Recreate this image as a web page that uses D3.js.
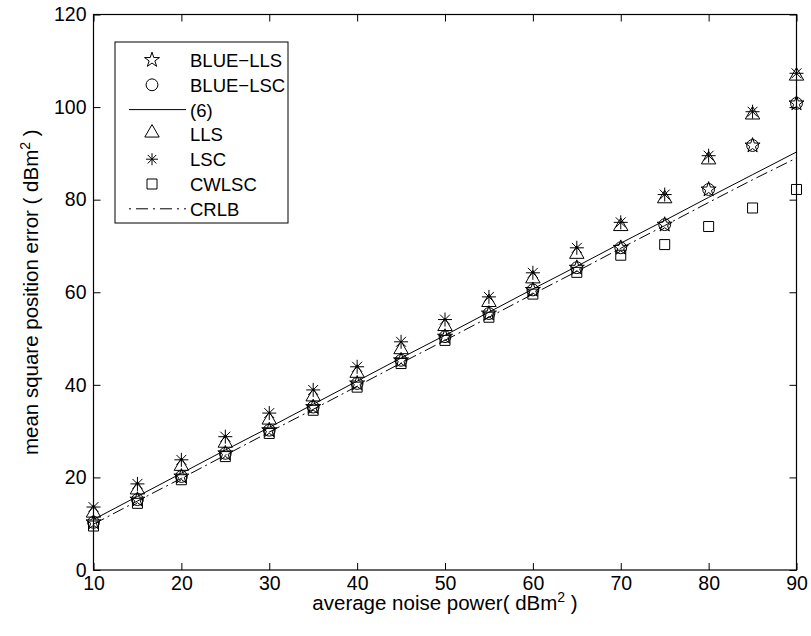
<!DOCTYPE html>
<html>
<head>
<meta charset="utf-8">
<script src="https://cdn.jsdelivr.net/npm/d3@7"></script>
<style>
  body { margin: 0; background: #fff; }
  text { font-family: "Liberation Sans", Arial, sans-serif; fill: #000; }
</style>
</head>
<body>
<div id="chart"></div>
<script>
// Data
const noisePower = [10, 15, 20, 25, 30, 35, 40, 45, 50, 55, 60, 65, 70, 75, 80, 85, 90];
const blueLLS = [10.3, 15.2, 20.2, 25.2, 30.2, 35.2, 40.3, 45.3, 50.4, 55.4, 60.5, 65.3, 69.6, 74.6, 82.2, 91.7, 100.8];
const blueLSC = [10.3, 15.2, 20.2, 25.2, 30.2, 35.2, 40.3, 45.3, 50.4, 55.4, 60.5, 65.3, 69.6, 74.6, 82.2, 91.7, 100.8];
const eq6 = [10.9, 15.9, 20.9, 25.9, 30.8, 35.8, 40.8, 45.8, 50.7, 55.7, 60.7, 65.6, 70.6, 75.5, 80.5, 85.4, 90.3];
const lls = [12.0, 17.0, 22.1, 27.1, 32.1, 37.1, 42.2, 47.3, 52.3, 57.5, 62.6, 67.9, 73.9, 79.9, 88.3, 98.0, 106.4];
const lsc = [13.6, 18.6, 23.8, 28.8, 33.9, 38.9, 43.9, 49.3, 54.1, 59.0, 64.2, 69.6, 75.1, 81.1, 89.5, 99.0, 107.3];
const cwlsc = [9.5, 14.4, 19.5, 24.5, 29.5, 34.5, 39.5, 44.6, 49.6, 54.6, 59.6, 64.3, 68.0, 70.3, 74.2, 78.2, 82.2];
const crlb = [9.9, 14.9, 19.8, 24.8, 29.8, 34.7, 39.7, 44.7, 49.6, 54.6, 59.6, 64.5, 69.5, 74.4, 79.4, 84.3, 89.0];
const xTicks = [10, 20, 30, 40, 50, 60, 70, 80, 90];
const yTicks = [0, 20, 40, 60, 80, 100, 120];
const legendLabels = ["BLUE\u2212LLS", "BLUE\u2212LSC", "(6)", "LLS", "LSC", "CWLSC", "CRLB"];

const W = 811, H = 636;
const margin = { top: 14.5, right: 14.5, bottom: 66, left: 93.5 };
const width = W - margin.left - margin.right;
const height = H - margin.top - margin.bottom;

const svg = d3.select("#chart").append("svg")
    .attr("width", W)
    .attr("height", H);

const g = svg.append("g")
    .attr("transform", `translate(${margin.left},${margin.top})`);

const x = d3.scaleLinear().domain([10, 90]).range([0, width]);
const y = d3.scaleLinear().domain([0, 120]).range([height, 0]);

// Axes, MATLAB style: ticks inward on all sides
const tickLen = 7;
g.append("g")
    .attr("transform", `translate(0,${height})`)
    .call(d3.axisBottom(x).tickValues(xTicks).tickSizeInner(-tickLen).tickSizeOuter(0).tickPadding(6))
    .call(a => a.select(".domain").remove());
g.append("g")
    .call(d3.axisTop(x).tickValues(xTicks).tickSizeInner(-tickLen).tickSizeOuter(0).tickFormat(""))
    .call(a => a.select(".domain").remove());
g.append("g")
    .call(d3.axisLeft(y).tickValues(yTicks).tickSizeInner(-tickLen).tickSizeOuter(0).tickPadding(7))
    .call(a => a.select(".domain").remove());
g.append("g")
    .attr("transform", `translate(${width},0)`)
    .call(d3.axisRight(y).tickValues(yTicks).tickSizeInner(-tickLen).tickSizeOuter(0).tickFormat(""))
    .call(a => a.select(".domain").remove());

g.selectAll(".tick line").attr("stroke", "#000").attr("stroke-width", 1);
g.selectAll(".tick text")
    .style("font-family", "'Liberation Sans', Arial, sans-serif")
    .style("font-size", "19.5px");

g.append("rect")
    .attr("width", width).attr("height", height)
    .attr("fill", "none").attr("stroke", "#000").attr("stroke-width", 1.2);

// Axis labels
const xl = svg.append("text")
    .attr("x", margin.left + width / 2)
    .attr("y", 610)
    .attr("text-anchor", "middle")
    .style("font-size", "20.5px");
xl.append("tspan").text("average noise power( dBm");
xl.append("tspan").attr("dy", -8).style("font-size", "14px").text("2");
xl.append("tspan").attr("dy", 8).text(" )");

const yl = svg.append("text")
    .attr("transform", `translate(38,${margin.top + height / 2}) rotate(-90)`)
    .attr("text-anchor", "middle")
    .style("font-size", "20.5px");
yl.append("tspan").text("mean square position error ( dBm");
yl.append("tspan").attr("dy", -8).style("font-size", "14px").text("2");
yl.append("tspan").attr("dy", 8).text(" )");

// Lines
const line = d3.line().x((d, i) => x(noisePower[i])).y(d => y(d));
const plot = g.append("g");
plot.append("path").datum(eq6).attr("d", line)
    .attr("fill", "none").attr("stroke", "#000").attr("stroke-width", 1);
plot.append("path").datum(crlb).attr("d", line)
    .attr("fill", "none").attr("stroke", "#000").attr("stroke-width", 1)
    .attr("stroke-dasharray", "12,4,2,4");

// Marker shapes
const sym = {
  star: d3.symbol().type(d3.symbolStar).size(70),
  circle: d3.symbol().type(d3.symbolCircle).size(110),
  triangle: d3.symbol().type(d3.symbolTriangle).size(90),
  square: d3.symbol().type(d3.symbolSquare).size(100)
};

function drawAsterisk(sel, r) {
  const angles = [0, 45, 90, 135];
  angles.forEach(a => {
    const rad = a * Math.PI / 180;
    sel.append("line")
      .attr("x1", -r * Math.cos(rad)).attr("y1", -r * Math.sin(rad))
      .attr("x2", r * Math.cos(rad)).attr("y2", r * Math.sin(rad))
      .attr("stroke", "#000").attr("stroke-width", 1);
  });
}

function drawMarkers(values, kind) {
  const sel = plot.append("g").selectAll("g")
    .data(values)
    .join("g")
    .attr("transform", (d, i) => `translate(${x(noisePower[i])},${y(d)})`);
  if (kind === "asterisk") {
    sel.each(function() { drawAsterisk(d3.select(this), 7); });
  } else {
    sel.append("path")
      .attr("d", sym[kind]())
      .attr("transform", kind === "triangle" ? "translate(0,-1.5)" : null)
      .attr("fill", "none").attr("stroke", "#000").attr("stroke-width", 1);
  }
}

drawMarkers(cwlsc, "square");
drawMarkers(blueLSC, "circle");
drawMarkers(blueLLS, "star");
drawMarkers(lls, "triangle");
drawMarkers(lsc, "asterisk");

// Legend
const leg = svg.append("g").attr("transform", "translate(115,42)");
leg.append("rect")
    .attr("width", 173).attr("height", 181)
    .attr("fill", "#fff").attr("stroke", "#000").attr("stroke-width", 1);
const legKinds = ["star", "circle", "line", "triangle", "asterisk", "square", "dashdot"];
legendLabels.forEach((lab, i) => {
  const cy = 18 + i * 24.8;
  const row = leg.append("g").attr("transform", `translate(0,${cy})`);
  const k = legKinds[i];
  if (k === "line" || k === "dashdot") {
    row.append("line").attr("x1", 14).attr("x2", 71).attr("y1", 0).attr("y2", 0)
      .attr("stroke", "#000").attr("stroke-width", 1)
      .attr("stroke-dasharray", k === "dashdot" ? "2,5,12,5" : null);
  } else if (k === "asterisk") {
    drawAsterisk(row.append("g").attr("transform", "translate(37,0)"), 6);
  } else {
    row.append("path").attr("d", sym[k]())
      .attr("transform", `translate(37,${k === "triangle" ? -1.5 : 0})`)
      .attr("fill", "none").attr("stroke", "#000").attr("stroke-width", 1);
  }
  row.append("text").attr("x", 75).attr("y", 7).style("font-size", "18.5px").text(lab);
});
</script>
</body>
</html>
